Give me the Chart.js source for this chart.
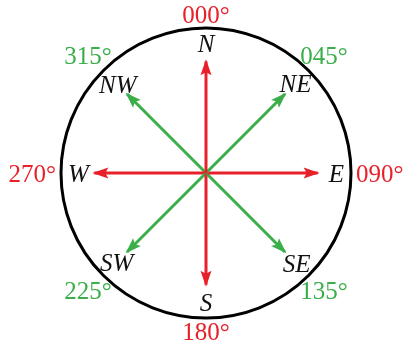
<!DOCTYPE html>
<html>
<head>
<meta charset="utf-8">
<script src="https://cdn.jsdelivr.net/npm/chart.js@4"></script>
<style>
  body { margin: 0; background: #fff; }
  #wrap { width: 403px; height: 350px; }
</style>
</head>
<body>
<div id="wrap"><canvas id="compass"></canvas></div>
<script>
// Compass rose data
const directions = ['N', 'NE', 'E', 'SE', 'S', 'SW', 'W', 'NW'];
const bearings = [0, 45, 90, 135, 180, 225, 270, 315];
const bearingLabels = ['000°', '045°', '090°', '135°', '180°', '225°', '270°', '315°'];
const arrowLength = 0.77; // in units of the circle radius

const RED = '#e8202a';
const GREEN = '#3aae48';
const FONT = "'Liberation Serif', 'Times New Roman', Times, serif";

function rad(b) { return b * Math.PI / 180; }

const datasets = bearings.map((b, i) => ({
    label: directions[i],
    data: [
        { x: 0, y: 0 },
        { x: arrowLength * Math.sin(rad(b)), y: arrowLength * Math.cos(rad(b)) }
    ],
    borderColor: b % 90 === 0 ? RED : GREEN,
    borderWidth: 3,
    pointRadius: 0,
    showLine: true,
    fill: false
}));

// place text on a ray from the centre, pixel distance measured from the circle
function drawPolarText(ctx, cx, cy, R, b, text, font, color, outside, gap) {
    ctx.font = font.str;
    const w = ctx.measureText(text).width;
    const h = font.capH;
    const s = Math.abs(Math.sin(rad(b))), c = Math.abs(Math.cos(rad(b)));
    const off = gap + Math.max(s * w / 2, c * h / 2);
    const r = outside ? R + off : R - off;
    const x = cx + r * Math.sin(rad(b));
    const y = cy - r * Math.cos(rad(b));
    ctx.fillStyle = color;
    ctx.textAlign = 'center';
    ctx.textBaseline = 'alphabetic';
    ctx.fillText(text, x, y + h / 2);
}

const compassDecor = {
    id: 'compassDecor',
    beforeDatasetsDraw(chart) {
        const { ctx, scales: { x, y } } = chart;
        const cx = x.getPixelForValue(0), cy = y.getPixelForValue(0);
        const R = x.getPixelForValue(1) - cx;
        ctx.save();
        ctx.beginPath();
        ctx.arc(cx, cy, R, 0, Math.PI * 2);
        ctx.lineWidth = 3;
        ctx.strokeStyle = '#000';
        ctx.stroke();
        ctx.restore();
    },
    afterDatasetsDraw(chart) {
        const { ctx, scales: { x, y } } = chart;
        const cx = x.getPixelForValue(0), cy = y.getPixelForValue(0);
        const R = x.getPixelForValue(1) - cx;
        ctx.save();

        // arrowheads
        chart.data.datasets.forEach((ds, i) => {
            const pts = chart.getDatasetMeta(i).data;
            const p0 = pts[0], p1 = pts[1];
            const dx = p1.x - p0.x, dy = p1.y - p0.y;
            const len = Math.hypot(dx, dy);
            const ux = dx / len, uy = dy / len;
            const tipX = p1.x + ux * 2, tipY = p1.y + uy * 2;
            const headLen = 16, halfW = 5.5;
            const bx = tipX - ux * headLen, by = tipY - uy * headLen;
            ctx.beginPath();
            ctx.moveTo(tipX, tipY);
            ctx.lineTo(bx - uy * halfW, by + ux * halfW);
            ctx.lineTo(bx + ux * 3, by + uy * 3);
            ctx.lineTo(bx + uy * halfW, by - ux * halfW);
            ctx.closePath();
            ctx.fillStyle = ds.borderColor;
            ctx.fill();
        });

        // direction letters inside, bearings outside
        const dirFont = { str: 'italic 25px ' + FONT, capH: 17 };
        const degFont = { str: '25px ' + FONT, capH: 17 };
        bearings.forEach((b, i) => {
            drawPolarText(ctx, cx, cy, R, b, directions[i], dirFont, '#111', false, 7);
            drawPolarText(ctx, cx, cy, R, b, bearingLabels[i], degFont,
                b % 90 === 0 ? RED : GREEN, true, 5);
        });
        ctx.restore();
    }
};

function build() {
    // 145 px per unit, centre at (206, 173)
    new Chart(document.getElementById('compass'), {
        type: 'scatter',
        data: { datasets },
        options: {
            responsive: true,
            maintainAspectRatio: false,
            animation: false,
            layout: { padding: 0 },
            plugins: { legend: { display: false }, tooltip: { enabled: false } },
            scales: {
                x: { type: 'linear', min: -206 / 145, max: 197 / 145, display: false },
                y: { type: 'linear', min: -177 / 145, max: 173 / 145, display: false }
            }
        },
        plugins: [compassDecor]
    });
}

Promise.all([
    document.fonts.load('25px "Liberation Serif"'),
    document.fonts.load('italic 25px "Liberation Serif"')
]).then(build, build);
</script>
</body>
</html>
